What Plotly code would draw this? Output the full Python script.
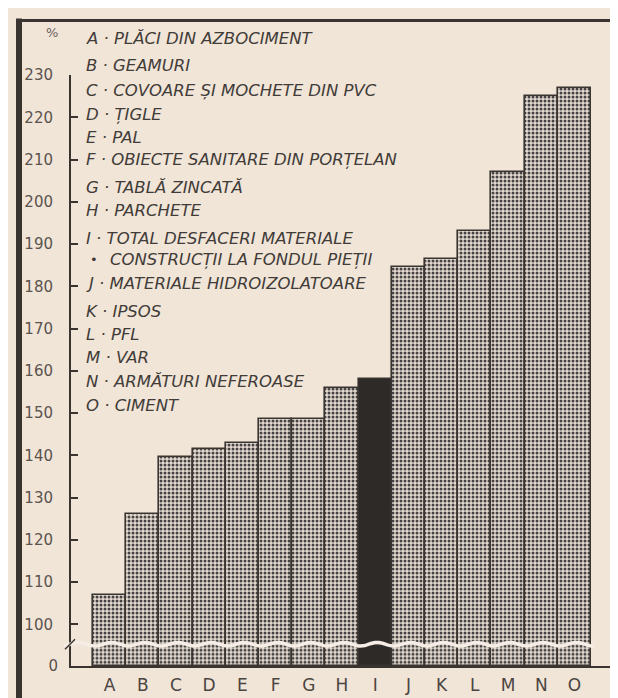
import numpy as np
import plotly.graph_objects as go

# ---------------- data ----------------
categories = ["A", "B", "C", "D", "E", "F", "G", "H", "I", "J", "K", "L", "M", "N", "O"]
values = [107, 126, 139.5, 141.5, 143, 148.5, 148.5, 156, 158, 184.5, 186.5, 193, 207, 225, 227]
legend_labels = [
    "A · PLĂCI DIN AZBOCIMENT",
    "B · GEAMURI",
    "C · COVOARE ȘI MOCHETE DIN PVC",
    "D · ȚIGLE",
    "E · PAL",
    "F · OBIECTE SANITARE DIN PORȚELAN",
    "G · TABLĂ ZINCATĂ",
    "H · PARCHETE",
    "I · TOTAL DESFACERI MATERIALE",
    "J · MATERIALE HIDROIZOLATOARE",
    "K · IPSOS",
    "L · PFL",
    "M · VAR",
    "N · ARMĂTURI NEFEROASE",
    "O · CIMENT",
]
legend_continuation = "CONSTRUCȚII LA FONDUL PIEȚII"
upper_ticks = list(range(100, 231, 10))
highlight = "I"

# ---------------- geometry helpers ----------------
W, H = 618, 698
ML, MR, MT, MB = 63, 11, 67, 34
PW, PH = W - ML - MR, H - MT - MB


def px(x):
    return (x - ML) / PW


def py(y):
    return (H - MB - y) / PH


BREAK_Y = 642
break_frac = py(BREAK_Y)

BG = "#f1e5d8"
INK = "#3a3430"
TEXT = "#423c38"

bar_colors = ["#2e2a28" if c == highlight else "#e4d9ce" for c in categories]
bar_shapes = ["" if c == highlight else "." for c in categories]


def bar_trace(yaxis):
    return go.Bar(
        x=categories,
        y=values,
        yaxis=yaxis,
        xaxis="x",
        width=1.0,
        marker=dict(
            color=bar_colors,
            line=dict(color=INK, width=1.6),
            pattern=dict(
                shape=bar_shapes,
                fgcolor="#5c5550",
                fgopacity=1,
                size=4,
                solidity=0.45,
                fillmode="overlay",
            ),
        ),
        showlegend=False,
        hoverinfo="x+y",
    )


fig = go.Figure()
fig.add_trace(bar_trace("y"))
fig.add_trace(bar_trace("y2"))

fig.update_layout(
    width=W,
    height=H,
    margin=dict(l=ML, r=MR, t=MT, b=MB),
    paper_bgcolor=BG,
    plot_bgcolor=BG,
    bargap=0,
    font=dict(family="DejaVu Sans", color=TEXT),
    xaxis=dict(
        anchor="y2",
        range=[-1.16, 15.22],
        showline=True,
        linecolor=INK,
        linewidth=2,
        ticks="",
        showgrid=False,
        zeroline=False,
        tickfont=dict(size=17, color="#4a4440"),
        ticklabelstandoff=3,
    ),
    yaxis=dict(
        domain=[break_frac, 1],
        range=[95.3, 230],
        tickvals=upper_ticks,
        ticks="inside",
        ticklen=7,
        tickwidth=1.5,
        tickcolor=INK,
        showline=True,
        linecolor=INK,
        linewidth=2,
        showgrid=False,
        zeroline=False,
        tickfont=dict(size=15, color="#5a534e"),
        ticklabelstandoff=13,
    ),
    yaxis2=dict(
        domain=[0, break_frac],
        range=[0, 6],
        tickvals=[0],
        ticktext=["0"],
        ticks="",
        showline=True,
        linecolor=INK,
        linewidth=2,
        showgrid=False,
        zeroline=False,
        tickfont=dict(size=15, color="#5a534e"),
        ticklabelstandoff=8,
    ),
)

# ---------------- legend text ----------------
legend_y = [30, 57, 83, 107, 130, 152, 181, 204, 232, 278, 306, 329, 352, 377, 401]
annotations = []
for lab, yy in zip(legend_labels, legend_y):
    annotations.append(dict(
        x=px(76), y=py(yy), xref="paper", yref="paper",
        text="<i>" + lab + "</i>", showarrow=False,
        xanchor="left", yanchor="middle",
        font=dict(size=16.5, color=TEXT, family="DejaVu Sans"),
    ))
annotations.append(dict(
    x=px(80), y=py(253), xref="paper", yref="paper",
    text="•", showarrow=False, xanchor="left", yanchor="middle",
    font=dict(size=13, color=TEXT),
))
annotations.append(dict(
    x=px(100), y=py(253), xref="paper", yref="paper",
    text="<i>" + legend_continuation + "</i>", showarrow=False,
    xanchor="left", yanchor="middle",
    font=dict(size=16.5, color=TEXT, family="DejaVu Sans"),
))
annotations.append(dict(
    x=px(44), y=py(24), xref="paper", yref="paper",
    text="%", showarrow=False, xanchor="center", yanchor="middle",
    font=dict(size=13, color="#6a625c"),
))
fig.update_layout(annotations=annotations)

# ---------------- decorations: frame and axis break ----------------
xs = np.linspace(56, 586, 260)
wave_y = BREAK_Y + 1.8 * np.sin(2 * np.pi * (xs - 85) / 33.2 + 1.2)
path = "M " + " L ".join(f"{px(a):.5f},{py(b):.5f}" for a, b in zip(xs, wave_y))

shapes = [
    dict(type="path", path=path, xref="paper", yref="paper",
         line=dict(color="#f6eee6", width=3.5), layer="above"),
    dict(type="line", xref="paper", yref="paper",
         x0=px(57), y0=py(647), x1=px(67), y1=py(637),
         line=dict(color=INK, width=1.5), layer="above"),
    dict(type="line", xref="paper", yref="paper",
         x0=px(11), y0=py(10), x1=px(11), y1=py(698),
         line=dict(color=INK, width=6)),
    dict(type="line", xref="paper", yref="paper",
         x0=px(8), y0=py(12), x1=px(614), y1=py(12),
         line=dict(color=INK, width=3)),
    dict(type="line", xref="paper", yref="paper",
         x0=px(611), y0=py(12), x1=px(611), y1=py(698),
         line=dict(color=INK, width=4)),
]
fig.update_layout(shapes=shapes)

fig.write_html("out.html")
